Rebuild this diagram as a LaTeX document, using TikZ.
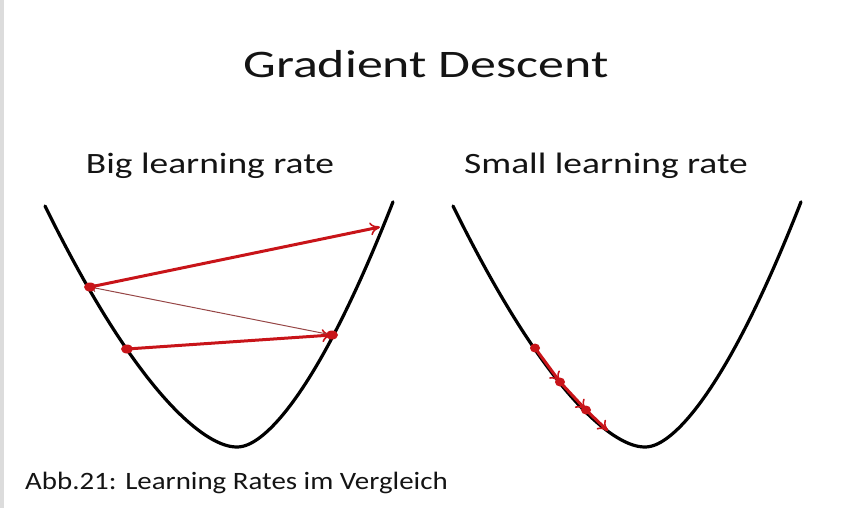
\documentclass[tikz,border=0pt]{standalone}
\usepackage{fontspec}
\setmainfont{Carlito}
\usetikzlibrary{arrows.meta}
\tikzset{
  kurve/.style={black, line width=3.2pt, line cap=round, line join=round},
  schritt/.style={schrittrot, line width=3pt, -{To[length=10pt, width=13pt, line width=1.6pt]}},
  rueck/.style={rueckrot, line width=1pt, -{To[length=6pt, width=8pt]}},
  punkt/.style={fill=schrittrot, draw=none, ellipse, minimum width=12pt, minimum height=9pt, inner sep=0pt},
}
\usetikzlibrary{shapes.geometric}
\begin{document}
\begin{tikzpicture}[x=1pt, y=-1pt]
			\definecolor{schrittrot}{RGB}{200,20,25}
			\definecolor{rueckrot}{RGB}{150,70,70}
			\definecolor{rand}{RGB}{220,220,220}
			\definecolor{schrift}{RGB}{20,20,20}
			\useasboundingbox (0,0) rectangle (846,508);
			\fill[rand] (0,0) rectangle (3.5,508);
			% Titel und Beschriftungen
			\node[schrift, font=\fontsize{39}{46}\selectfont, anchor=base] (titel) at (426,78) {\scalebox{1.33}[1]{Gradient Descent}};
			\node[schrift, font=\fontsize{29.5}{34}\selectfont, anchor=base] (gross) at (210,174) {\scalebox{1.27}[1]{Big learning rate}};
			\node[schrift, font=\fontsize{29.5}{34}\selectfont, anchor=base] (klein) at (606,174) {\scalebox{1.27}[1]{Small learning rate}};
			\node[schrift, font=\fontsize{25}{30}\selectfont, anchor=base west, inner sep=0pt] (abb) at (25,489) {\scalebox{1.156}[1]{Abb.21: Learning Rates im Vergleich}};
			% Kostenfunktionen
			\foreach \dx in {0,408} {
				\draw[kurve, xshift=\dx pt] plot[domain=45:393, samples=140] (\x, {447-((\x<237)?2.158:3.073)*(pow(((\x-237)/10)*((\x-237)/10)+2.25,0.8)-1.913)});
			}
			% grosse Lernrate
			\coordinate (d) at (127,349);
			\coordinate (c) at (332,335);
			\coordinate (a) at (90,287);
			\coordinate (b) at (380,227);
			\draw[schritt] (d) -- (c);
			\draw[rueck] (c) -- (a);
			\draw[schritt] (a) -- (b);
			\node[punkt] (pd) at (d) {};
			\node[punkt] (pc) at (c) {};
			\node[punkt] (pa) at (a) {};
			% kleine Lernrate
			\coordinate (p0) at (535,348);
			\coordinate (p1) at (560,382);
			\coordinate (p2) at (586,410);
			\coordinate (p3) at (608,431);
			\draw[schritt] (p0) -- (p1);
			\draw[schritt] (p1) -- (p2);
			\draw[schritt] (p2) -- (p3);
			\node[punkt, minimum width=10pt, minimum height=9pt] (q0) at (p0) {};
			\node[punkt, minimum width=10pt, minimum height=9pt] (q1) at (p1) {};
			\node[punkt, minimum width=10pt, minimum height=9pt] (q2) at (p2) {};
		\end{tikzpicture}
\end{document}
